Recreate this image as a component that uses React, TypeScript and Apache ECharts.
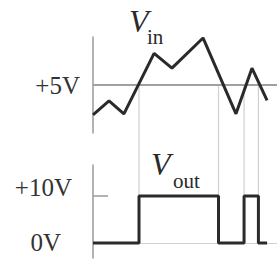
import React, { useEffect, useRef } from "react";
import * as echarts from "echarts";

// time axis (arbitrary units, 0..100 across the plot)
const vinTimes = [0, 8.7, 16.8, 33.2, 42.9, 59.8, 77.7, 86.4, 94.6];
const vinValues = [1.9, 3.35, 2.0, 8.3, 6.75, 9.9, 2.0, 6.75, 3.4];
const threshold = 5;
const switchTimes = [25.0, 68.2, 82.1, 89.9];
const voutTimes = [0, 25.0, 68.2, 82.1, 89.9, 94.6];
const voutLevels = [0, 10, 0, 10, 0, 0];
const voutHigh = 10;
const topTicks = [5];
const bottomTicks = [0, 10];

const SERIF = "'Liberation Serif', 'DejaVu Serif', serif";

export default function App() {
  const ref = useRef<HTMLDivElement>(null);
  useEffect(() => {
    if (!ref.current) return;
    const chart = echarts.init(ref.current, null, { renderer: "svg" });
    const option: any = {
      animation: false,
      backgroundColor: "#fff",
      grid: [
        { left: 93, right: 0, top: 37, height: 96 },
        { left: 93, right: 0, top: 165, height: 93 },
      ],
      xAxis: [
        { gridIndex: 0, type: "value", min: 0, max: 100, show: false },
        {
          gridIndex: 1, type: "value", min: 0, max: 100,
          axisLine: { show: true, onZero: true, lineStyle: { color: "#d0d0d0", width: 1 } },
          axisTick: { show: false }, axisLabel: { show: false }, splitLine: { show: false },
        },
      ],
      yAxis: [
        {
          gridIndex: 0, type: "value", min: 0, max: 10,
          axisLine: { show: true, lineStyle: { color: "#9a9a9a", width: 1.5 } },
          axisTick: { show: false },
          splitLine: { show: false },
          axisLabel: {
            customValues: topTicks,
            formatter: (v: number) => "+" + v + "V",
            color: "#333", fontFamily: SERIF, fontSize: 25, margin: 13,
          },
        },
        {
          gridIndex: 1, type: "value", min: -3.2, max: 16.6,
          axisLine: { show: true, lineStyle: { color: "#9a9a9a", width: 1.5 } },
          axisTick: { show: true, inside: true, length: 15, customValues: [voutHigh], lineStyle: { color: "#9a9a9a", width: 1.5 } },
          splitLine: { show: false },
          axisLabel: {
            customValues: bottomTicks,
            formatter: (v: number) => (v === 0 ? "{lo|0V}" : "{hi|+" + v + "V}"),
            color: "#333", fontFamily: SERIF, fontSize: 25, margin: 21,
            rich: {
              hi: { fontFamily: SERIF, fontSize: 25, color: "#333", padding: [0, 0, 18, 0] },
              lo: { fontFamily: SERIF, fontSize: 25, color: "#333", padding: [0, 11, 0, 0] },
            },
          },
        },
      ],
      series: [
        {
          type: "line", xAxisIndex: 0, yAxisIndex: 0, z: 5,
          data: vinTimes.map((t, i) => [t, vinValues[i]]),
          showSymbol: false, symbol: "none",
          lineStyle: { color: "#2a2a2a", width: 3 },
          markLine: {
            silent: true, symbol: "none", label: { show: false },
            lineStyle: { color: "#a0a0a0", width: 2, type: "solid" },
            data: [{ yAxis: threshold }],
          },
        },
        {
          type: "line", xAxisIndex: 1, yAxisIndex: 1, z: 5,
          step: "end",
          data: voutTimes.map((t, i) => [t, voutLevels[i]]),
          showSymbol: false, symbol: "none",
          lineStyle: { color: "#2a2a2a", width: 3 },
        },
      ],
    };
    chart.setOption(option);

    const guides = switchTimes.map((t) => {
      const p1 = chart.convertToPixel({ gridIndex: 0 }, [t, threshold]) as number[];
      const p2 = chart.convertToPixel({ gridIndex: 1 }, [t, voutHigh]) as number[];
      return {
        type: "line", z: 1, silent: true,
        shape: { x1: p1[0], y1: p1[1], x2: p2[0], y2: p2[1] },
        style: { stroke: "#cfcfcf", lineWidth: 1.2 },
      };
    });
    const texts = [
      { type: "text", x: 129, y: 21, style: { text: "V", font: `italic 32px ${SERIF}`, fill: "#2a2a2a", verticalAlign: "middle", align: "left" } },
      { type: "text", x: 147, y: 37, style: { text: "in", font: `21px ${SERIF}`, fill: "#2a2a2a", verticalAlign: "middle", align: "left" } },
      { type: "text", x: 151, y: 164, style: { text: "V", font: `italic 32px ${SERIF}`, fill: "#2a2a2a", verticalAlign: "middle", align: "left" } },
      { type: "text", x: 173, y: 181, style: { text: "out", font: `21px ${SERIF}`, fill: "#2a2a2a", verticalAlign: "middle", align: "left" } },
    ];
    chart.setOption({ graphic: [...guides, ...texts] });
    return () => chart.dispose();
  }, []);
  return <div ref={ref} style={{ width: 277, height: 260, position: "absolute", left: 0, top: 0 }} />;
}
